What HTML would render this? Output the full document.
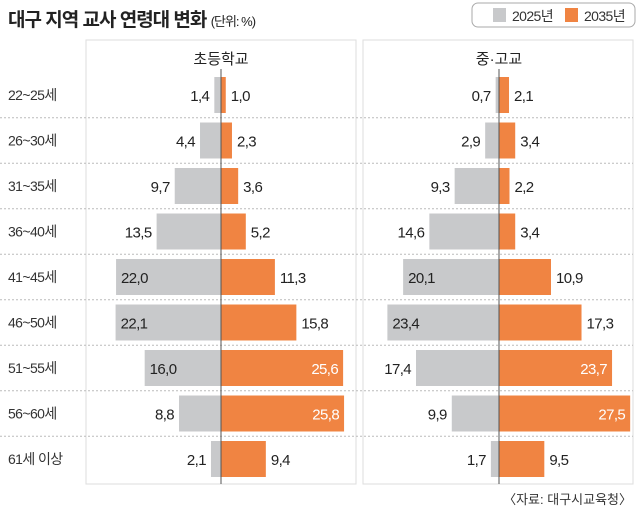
<!DOCTYPE html>
<html><head><meta charset="utf-8">
<style>
body{margin:0;background:#fff;}
svg text{font-family:"Liberation Sans","Noto Sans CJK KR",sans-serif;}
#rows text{letter-spacing:-0.6px;}
</style></head>
<body>
<svg id="chart" width="640" height="510" viewBox="0 0 640 510" xmlns="http://www.w3.org/2000/svg">
<text x="8" y="26" font-size="19" font-weight="bold" fill="#222" style="letter-spacing:-1px">대구 지역 교사 연령대 변화 <tspan font-size="13" font-weight="normal">(단위: %)</tspan></text>
<g>
<rect x="472" y="3" width="163" height="24" rx="6" fill="#fff" stroke="#aaa"/>
<rect x="493" y="8" width="13" height="14" fill="#c8c9cb"/>
<text x="512" y="21" font-size="14" fill="#333" style="letter-spacing:-0.6px">2025년</text>
<rect x="565" y="8" width="13" height="14" fill="#f08442"/>
<text x="584" y="21" font-size="14" fill="#333" style="letter-spacing:-0.6px">2035년</text>
</g>
<rect x="86" y="40" width="270" height="444" fill="none" stroke="#ddd"/>
<rect x="363" y="40" width="270" height="444" fill="none" stroke="#ddd"/>
<text x="221" y="64" font-size="15" text-anchor="middle" fill="#222">초등학교</text>
<text x="499" y="64" font-size="15" text-anchor="middle" fill="#222">중·고교</text>
<g id="rows"></g>
<text x="632" y="504" font-size="13" text-anchor="end" fill="#333">〈자료: 대구시교육청〉</text>
</svg>
<script>
const categories = ["22~25세","26~30세","31~35세","36~40세","41~45세","46~50세","51~55세","56~60세","61세 이상"];
const elem2025 = [1.4,4.4,9.7,13.5,22.0,22.1,16.0,8.8,2.1];
const elem2035 = [1.0,2.3,3.6,5.2,11.3,15.8,25.6,25.8,9.4];
const sec2025 = [0.7,2.9,9.3,14.6,20.1,23.4,17.4,9.9,1.7];
const sec2035 = [2.1,3.4,2.2,3.4,10.9,17.3,23.7,27.5,9.5];
const elemGrayInside = [0,0,0,0,1,1,1,0,0];
const secGrayInside = [0,0,0,0,1,1,0,0,0];

const NS="http://www.w3.org/2000/svg";
const g=document.getElementById('rows');
const scale=4.77, rowTop=95, rowStep=45.5, barH=36;
function y(i){return rowTop+i*rowStep;}
function mk(tag,attrs){const e=document.createElementNS(NS,tag);for(const k in attrs)e.setAttribute(k,attrs[k]);g.appendChild(e);return e;}
function fmt(v){return v.toFixed(1).replace('.',',');}
categories.forEach((c,i)=>{
  const t=mk('text',{x:8,y:y(i)+5,'font-size':14,fill:'#333'});
  t.textContent=c;
  
  
  if(i>0){
    const l=mk('line',{x1:0,x2:633,y1:y(i)-rowStep/2,y2:y(i)-rowStep/2,stroke:'#bbb','stroke-dasharray':'2,2'});
    
    
  }
});
function panel(cx,a,b,inside,name){
  a.forEach((v,i)=>{
    const w=v*scale;
    const r=mk('rect',{x:cx-w,y:y(i)-barH/2,width:w,height:barH,fill:'#c8c9cb'});
    
    
    const t=mk('text',{y:y(i)+6,'font-size':15,fill:'#222'});
    if(inside[i]){t.setAttribute('x',cx-w+5);}else{t.setAttribute('x',cx-w-5);t.setAttribute('text-anchor','end');}
    t.textContent=fmt(v);
    
    
  });
  b.forEach((v,i)=>{
    const w=v*scale;
    const r=mk('rect',{x:cx,y:y(i)-barH/2,width:w,height:barH,fill:'#f08442'});
    
    
    const t=mk('text',{y:y(i)+6,'font-size':15});
    if(v>=20){t.setAttribute('x',cx+w-5);t.setAttribute('text-anchor','end');t.setAttribute('fill','#fff');}
    else{t.setAttribute('x',cx+w+5);t.setAttribute('fill','#222');}
    t.textContent=fmt(v);
    
    
  });
  const l=mk('line',{x1:cx,x2:cx,y1:y(0)-barH/2-8,y2:484,stroke:'#555','stroke-width':1});
  
  
}
panel(221,elem2025,elem2035,elemGrayInside,'elementary');
panel(499,sec2025,sec2035,secGrayInside,'secondary');
</script>
</body></html>
